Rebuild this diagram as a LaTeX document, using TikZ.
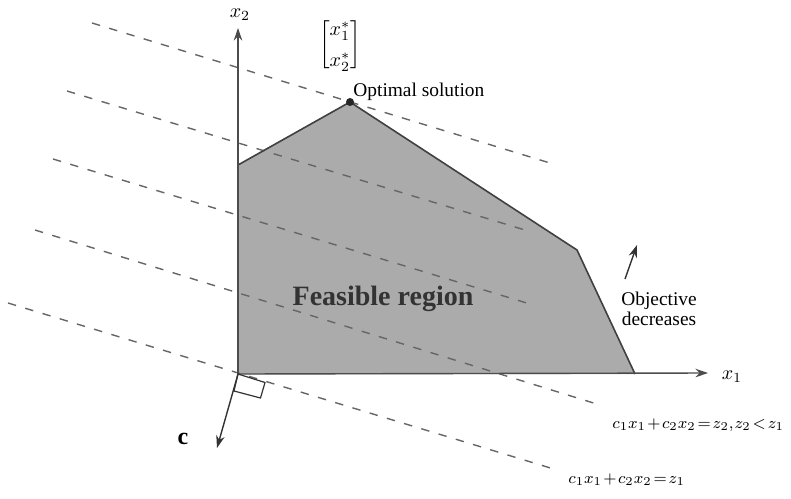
\documentclass[tikz,border=0pt]{standalone}
\usepackage{amsmath}
\usepackage{fontspec}
\setmainfont{Liberation Serif}
\usepackage{xcolor}
\usepackage{tikz}
\usetikzlibrary{arrows.meta}

\newcommand{\tightmath}{\medmuskip=1.5mu\thickmuskip=2mu\thinmuskip=1mu}

\begin{document}
\begin{tikzpicture}[x=0.5pt,y=-0.5pt,>={Stealth[length=2.2mm,width=1.5mm]},
  level/.style={dash pattern=on 4.2pt off 4.8pt,black!60,line width=0.7pt},
  axis/.style={->,black!70,line width=0.7pt},
  lbl/.style={font=\fontsize{9.7}{11}\selectfont,inner sep=0pt},
  eqlbl/.style={inner sep=0pt,anchor=base west,font=\fontsize{8.5}{10}\selectfont}]
  \useasboundingbox (0,0) rectangle (791,498);
  % corners of the feasible region
  \coordinate (o) at (238,374);
  \coordinate (p1) at (238,165);
  \coordinate (p2) at (350,102);
  \coordinate (p3) at (577,250);
  \coordinate (p4) at (635,374);
  \fill[black!33] (o) -- (p1) -- (p2) -- (p3) -- (p4) -- cycle;
  % objective level lines
  \coordinate (l1a) at (92,23);  \coordinate (l1b) at (550,163);
  \coordinate (l2a) at (67,91);  \coordinate (l2b) at (525,230);
  \coordinate (l3a) at (53,159); \coordinate (l3b) at (530,304);
  \coordinate (l4a) at (35,230); \coordinate (l4b) at (600,405);
  \coordinate (l5a) at (8,303);  \coordinate (l5b) at (557,470);
  \draw[level] (l1a) -- (l1b);
  \draw[level] (l2a) -- (l2b);
  \draw[level] (l3a) -- (l3b);
  \draw[level] (l4a) -- (l4b);
  \draw[level] (l5a) -- (l5b);
  \draw[black!75,line width=0.8pt] (o) -- (p1) -- (p2) -- (p3) -- (p4);
  % axes
  \coordinate (x1end) at (708,373);
  \coordinate (x2end) at (238,28);
  \draw[axis] (o) -- (x1end);
  \draw[axis] (o) -- (x2end);
  \node[inner sep=0pt] (x1lbl) at (732,377) {$x_1$};
  \node[inner sep=0pt] (x2lbl) at (240,15) {$x_2$};
  % optimum
  \node[circle,fill=black!85,inner sep=0pt,minimum size=4pt] (opt) at (p2) {};
  \node[lbl,anchor=base west] (optlbl) at (353,96.5) {Optimal solution};
  \node[inner sep=0pt] (xstar) at (340,45)
    {$\delimiterfactor=700\delimitershortfall=9pt\renewcommand{\arraystretch}{1.3}\begin{bmatrix} x_1^* \\ x_2^* \end{bmatrix}$};
  \node[font=\fontsize{14}{16}\selectfont\bfseries,text=black!80,inner sep=0pt,anchor=base] (feas) at (383,305) {Feasible region};
  % direction of decrease
  \coordinate (objtail) at (625,279);
  \coordinate (objhead) at (637,245);
  \draw[->,black!80,line width=0.7pt] (objtail) -- (objhead);
  \node[lbl,align=center,anchor=north,font=\fontsize{9.7}{9.6}\selectfont] (objlbl) at (659,292) {Objective\\decreases};
  % cost vector and right angle mark
  \coordinate (ctip) at (217,448);
  \draw[->,black!80,line width=0.7pt] (o) -- (ctip);
  \draw[black!80,line width=0.6pt] (o) -- (265,382.5) -- (260.5,398) -- (234,391) -- cycle;
  \node[font=\fontsize{12}{14}\selectfont\bfseries,inner sep=0pt] (clbl) at (183,439) {c};
  % level line labels
  \node[eqlbl] (eqtwo) at (612,428) {$\tightmath c_1x_1+c_2x_2=z_2, z_2<z_1$};
  \node[eqlbl] (eqone) at (568,483) {$\tightmath c_1x_1+c_2x_2=z_1$};
\end{tikzpicture}
\end{document}
